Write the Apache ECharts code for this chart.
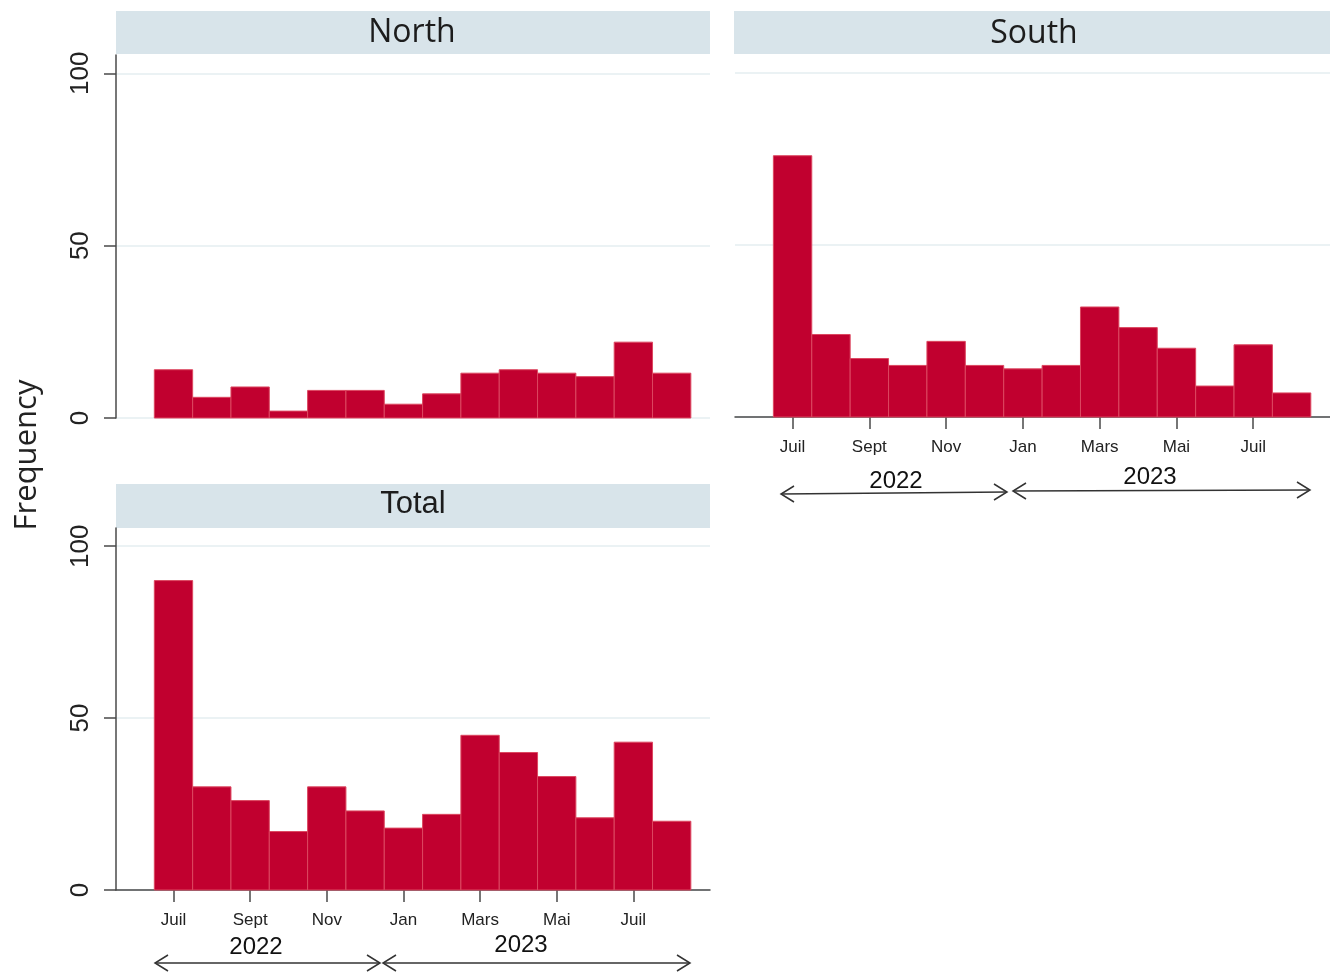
<!DOCTYPE html>
<html>
<head>
<meta charset="utf-8">
<script src="https://cdn.jsdelivr.net/npm/echarts@6/dist/echarts.min.js"></script>
<style>html,body{margin:0;padding:0;background:#fff}#c{width:1330px;height:973px}</style>
</head>
<body>
<div id="c"></div>
<script>
// Months: Juil 2022 ... Août 2023 (index 0..13)
const monthIndex = [0,1,2,3,4,5,6,7,8,9,10,11,12,13];
const northValues = [14,6,9,2,8,8,4,7,13,14,13,12,22,13];
const southValues = [76,24,17,15,22,15,14,15,32,26,20,9,21,7];
const totalValues = [90,30,26,17,30,23,18,22,45,40,33,21,43,20];
const tickPositions = [0,2,4,6,8,10,12];
const tickLabels = ['Juil','Sept','Nov','Jan','Mars','Mai','Juil'];
const yTicks = [0,50,100];
const panelTitles = ['North','South','Total'];
const yearLabels = ['2022','2023'];
const yAxisTitle = 'Frequency';

const chart = echarts.init(document.getElementById('c'), null, {renderer:'canvas'});

function renderBar(params, api){
  const x = api.value(0), y = api.value(1);
  const p0 = api.coord([x - 0.5, y]);
  const p1 = api.coord([x + 0.5, 0]);
  return {
    type:'rect',
    shape:{x:p0[0], y:p0[1], width:p1[0]-p0[0], height:p1[1]-p0[1]},
    style:{fill:'#c1002f', stroke:'#dc4760', lineWidth:1}
  };
}
function toData(vals){ return vals.map((v,i)=>[monthIndex[i], v]); }

const gridLineStyle = {color:'#e5eef0', width:1.5};
const axisColor = '#4a4a4a';

function xAxisDef(gridIndex, showAxis){
  return {
    type:'value', gridIndex, min:-1.5, max:14,
    axisLine:{show:showAxis, onZero:false, lineStyle:{color:axisColor, width:1.5}},
    axisTick:{show:showAxis, length:12, customValues:tickPositions, lineStyle:{color:axisColor, width:1.5}},
    axisLabel:{show:showAxis, customValues:tickPositions, margin:22,
      fontFamily:'Liberation Sans', fontSize:17, color:'#222',
      formatter:(v)=>{ const k = tickPositions.indexOf(Math.round(v)); return k>=0 ? tickLabels[k] : ''; }},
    splitLine:{show:false}
  };
}
function yAxisDef(gridIndex, showAxis){
  return {
    type:'value', gridIndex, min:0, max:105.3,
    axisLine:{show:showAxis, onZero:false, lineStyle:{color:axisColor, width:1.5}},
    axisTick:{show:showAxis, length:12, customValues:yTicks, lineStyle:{color:axisColor, width:1.5}},
    axisLabel:{show:showAxis, customValues:yTicks, rotate:90, margin:22,
      fontFamily:'Liberation Sans', fontSize:26, color:'#222'},
    splitLine:{show:true, lineStyle:gridLineStyle}
  };
}

function arrow(x1,y1,x2,y2){
  return [
    {type:'line', shape:{x1,y1,x2,y2}, style:{stroke:'#333', lineWidth:1.5}},
    {type:'polyline', shape:{points:[[x1+13,y1-8],[x1,y1],[x1+13,y1+8]]}, style:{stroke:'#333', lineWidth:1.5, fill:null}},
    {type:'polyline', shape:{points:[[x2-13,y2-8],[x2,y2],[x2-13,y2+8]]}, style:{stroke:'#333', lineWidth:1.5, fill:null}}
  ];
}

const graphics = [
  {type:'rect', shape:{x:116,y:11,width:594,height:43}, style:{fill:'#d8e4ea'}},
  {type:'rect', shape:{x:734,y:11,width:596,height:43}, style:{fill:'#d8e4ea'}},
  {type:'rect', shape:{x:116,y:484,width:594,height:44}, style:{fill:'#d8e4ea'}},
  {type:'text', x:412, y:33, style:{text:panelTitles[0], font:'32px "Open Sans"', fill:'#1c1c1c', align:'center', verticalAlign:'middle'}},
  {type:'text', x:1034, y:34, style:{text:panelTitles[1], font:'32px "Open Sans"', fill:'#1c1c1c', align:'center', verticalAlign:'middle'}},
  {type:'text', x:413, y:504, style:{text:panelTitles[2], font:'31px "Liberation Sans"', fill:'#1c1c1c', align:'center', verticalAlign:'middle'}},
  {type:'text', x:27, y:455, rotation:Math.PI/2, style:{text:yAxisTitle, font:'31px "Open Sans"', fill:'#222', align:'center', verticalAlign:'middle'}},
  {type:'text', x:896, y:481, style:{text:yearLabels[0], font:'24px "Liberation Sans"', fill:'#111', align:'center', verticalAlign:'middle'}},
  {type:'text', x:1150, y:477, style:{text:yearLabels[1], font:'24px "Liberation Sans"', fill:'#111', align:'center', verticalAlign:'middle'}},
  {type:'text', x:256, y:947, style:{text:yearLabels[0], font:'24px "Liberation Sans"', fill:'#111', align:'center', verticalAlign:'middle'}},
  {type:'text', x:521, y:945, style:{text:yearLabels[1], font:'24px "Liberation Sans"', fill:'#111', align:'center', verticalAlign:'middle'}},
  ...arrow(781,494,1007,492),
  ...arrow(1013,491,1310,490),
  ...arrow(155,963,380,963),
  ...arrow(383,963,690,963)
];

chart.setOption({
  animation:false,
  backgroundColor:'#ffffff',
  grid:[
    {left:116, top:55, width:594, height:363},
    {left:735, top:55, width:595, height:362},
    {left:116, top:528, width:594, height:362}
  ],
  xAxis:[xAxisDef(0,false), xAxisDef(1,true), xAxisDef(2,true)],
  yAxis:[yAxisDef(0,true), yAxisDef(1,false), yAxisDef(2,true)],
  series:[
    {type:'custom', xAxisIndex:0, yAxisIndex:0, renderItem:renderBar, data:toData(northValues)},
    {type:'custom', xAxisIndex:1, yAxisIndex:1, renderItem:renderBar, data:toData(southValues)},
    {type:'custom', xAxisIndex:2, yAxisIndex:2, renderItem:renderBar, data:toData(totalValues)}
  ],
  graphic:graphics
});
</script>
</body>
</html>
